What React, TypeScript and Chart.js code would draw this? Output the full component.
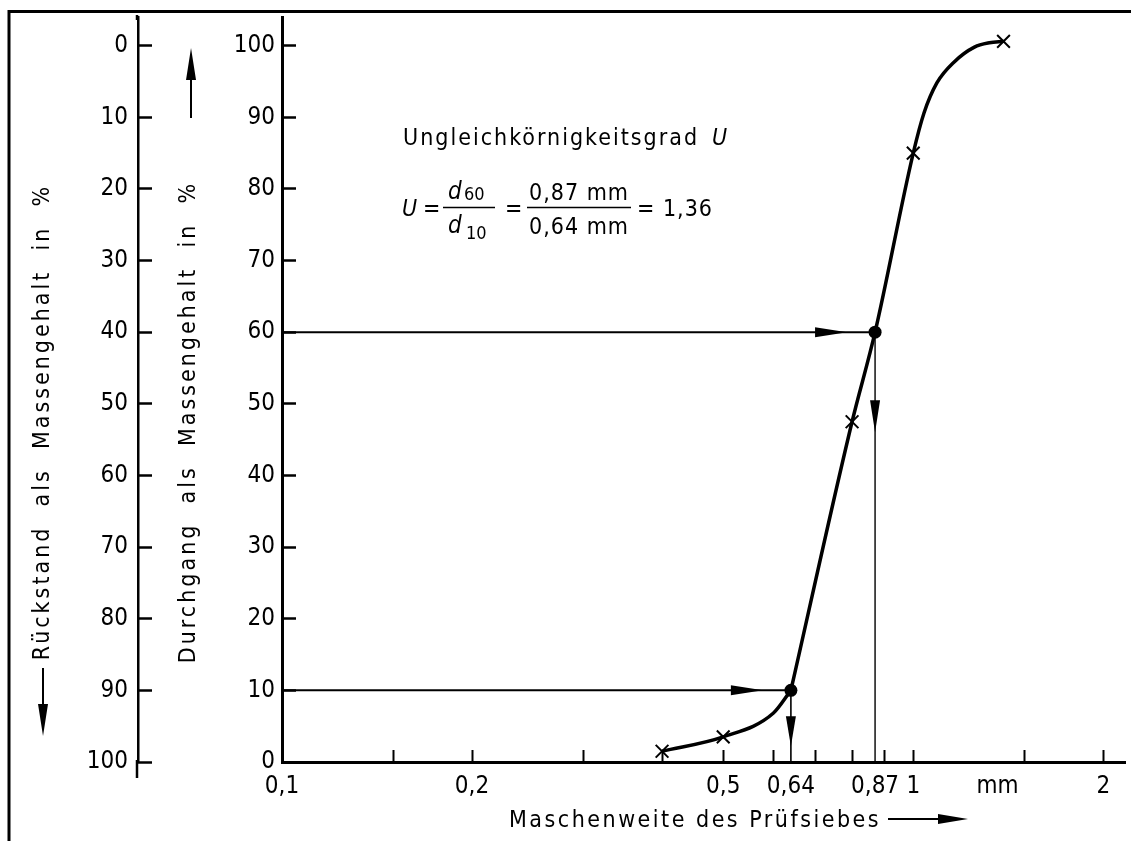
import React, { useEffect, useRef } from 'react';
import { Chart, registerables } from 'chart.js';

Chart.register(...registerables);

const FONT = '"DejaVu Sans Condensed", "DejaVu Sans", sans-serif';

// ---- data ----
const sieveSizes = [0.4, 0.5, 0.8, 1.0, 1.39];
const passingPercent = [1.5, 3.5, 47.5, 85, 100.6];

// grading curve, lower bend (up to d10) and upper part (from d10)
const curveLowSizes = [0.4, 0.5, 0.6, 0.64];
const curveLowPercent = [1.5, 3.5, 6.8, 10];
const curveHighSizes = [0.64, 0.8, 0.87, 1.0, 1.04, 1.09, 1.16, 1.25, 1.32, 1.39];
const curveHighPercent = [10, 47.5, 60, 85, 90.6, 94.8, 97.7, 99.8, 100.4, 100.6];

const keySizes = [0.64, 0.87]; // d10, d60
const keyPercent = [10, 60];

const passTicks = [0, 10, 20, 30, 40, 50, 60, 70, 80, 90, 100];
const residueTicks = [0, 10, 20, 30, 40, 50, 60, 70, 80, 90, 100];

const xTickValues = [0.1, 0.15, 0.2, 0.3, 0.4, 0.5, 0.6, 0.64, 0.7, 0.8, 0.87, 0.9, 1, 1.36, 1.5, 2];
const xTickLabels = ['0,1', '', '0,2', '', '', '0,5', '', '0,64', '', '', '0,87', '', '1', 'mm', '', '2'];
const xUnmarked = [0.64, 0.87, 1.36];

const X_MIN = 0.1;
const X_MAX = 2.165;
const Y_MAX = 104;
const RES_MIN = -4;

const yTitleResidue = 'Rückstand  als  Massengehalt  in  %';
const yTitlePassing = 'Durchgang  als  Massengehalt  in  %';
const xTitle = 'Maschenweite des Prüfsiebes';
const noteTitle = 'Ungleichkörnigkeitsgrad';

function arrowHead(ctx: CanvasRenderingContext2D, tx: number, ty: number, dir: string, len: number, half: number) {
  ctx.beginPath();
  if (dir === 'right') {
    ctx.moveTo(tx, ty);
    ctx.lineTo(tx - len, ty - half);
    ctx.lineTo(tx - len, ty + half);
  } else if (dir === 'down') {
    ctx.moveTo(tx, ty);
    ctx.lineTo(tx - half, ty - len);
    ctx.lineTo(tx + half, ty - len);
  } else if (dir === 'up') {
    ctx.moveTo(tx, ty);
    ctx.lineTo(tx - half, ty + len);
    ctx.lineTo(tx + half, ty + len);
  }
  ctx.closePath();
  ctx.fill();
}

const decorPlugin = {
  id: 'decor',
  beforeDraw(chart: any) {
    const ctx = chart.ctx as CanvasRenderingContext2D;
    ctx.save();
    ctx.fillStyle = '#fff';
    ctx.fillRect(0, 0, chart.width, chart.height);
    ctx.restore();
  },
  afterDraw(chart: any) {
    const ctx = chart.ctx as CanvasRenderingContext2D;
    const xs = chart.scales.x;
    const ys = chart.scales.y;
    const yr = chart.scales.yRes;
    ctx.save();
    ctx.fillStyle = '#000';
    ctx.strokeStyle = '#000';

    // frame
    ctx.lineWidth = 3;
    ctx.beginPath();
    ctx.moveTo(9, 841);
    ctx.lineTo(9, 11.5);
    ctx.lineTo(1131, 11.5);
    ctx.stroke();

    // residue axis extension beyond the plot range
    ctx.lineWidth = 2.5;
    ctx.beginPath();
    ctx.moveTo(yr.right - 1, 15);
    ctx.lineTo(yr.right - 1, 20);
    ctx.moveTo(yr.right - 1, ys.getPixelForValue(0) - 2);
    ctx.lineTo(yr.right - 1, 778);
    ctx.stroke();

    // guide arrows
    const d10x = xs.getPixelForValue(keySizes[0]);
    const d10y = ys.getPixelForValue(keyPercent[0]);
    const d60x = xs.getPixelForValue(keySizes[1]);
    const d60y = ys.getPixelForValue(keyPercent[1]);
    arrowHead(ctx, d60x - 28, d60y, 'right', 32, 5);
    arrowHead(ctx, d60x, d60y + 100, 'down', 32, 5);
    arrowHead(ctx, d10x - 28, d10y, 'right', 32, 5);
    arrowHead(ctx, d10x, d10y + 56, 'down', 30, 5);

    // axis titles
    (ctx as any).letterSpacing = '3px';
    ctx.font = `23px ${FONT}`;
    ctx.textAlign = 'center';
    ctx.textBaseline = 'middle';
    ctx.save();
    ctx.translate(43, 422);
    ctx.rotate(-Math.PI / 2);
    ctx.fillText(yTitleResidue, 0, 0);
    ctx.restore();
    ctx.save();
    ctx.translate(189, 422);
    ctx.rotate(-Math.PI / 2);
    ctx.fillText(yTitlePassing, 0, 0);
    ctx.restore();

    // title arrows
    ctx.lineWidth = 2;
    ctx.beginPath();
    ctx.moveTo(43, 668);
    ctx.lineTo(43, 706);
    ctx.stroke();
    arrowHead(ctx, 43, 736, 'down', 32, 5);
    ctx.beginPath();
    ctx.moveTo(191, 118);
    ctx.lineTo(191, 78);
    ctx.stroke();
    arrowHead(ctx, 191, 48, 'up', 32, 5);

    // x title
    (ctx as any).letterSpacing = '2.5px';
    ctx.font = `23px ${FONT}`;
    ctx.textAlign = 'left';
    ctx.textBaseline = 'alphabetic';
    ctx.fillText(xTitle, 509, 827);
    ctx.beginPath();
    ctx.moveTo(888, 819);
    ctx.lineTo(942, 819);
    ctx.stroke();
    arrowHead(ctx, 968, 819, 'right', 30, 5);

    // annotation
    (ctx as any).letterSpacing = '2px';
    ctx.font = `23px ${FONT}`;
    ctx.fillText(noteTitle, 403, 145);
    ctx.font = `italic 23px ${FONT}`;
    ctx.fillText('U', 712, 145);

    (ctx as any).letterSpacing = '0px';
    ctx.font = `italic 23px ${FONT}`;
    ctx.fillText('U', 402, 216);
    ctx.font = `23px ${FONT}`;
    ctx.fillText('=', 423, 216);
    ctx.font = `italic 24px ${FONT}`;
    ctx.fillText('d', 448, 199);
    ctx.fillText('d', 448, 233);
    ctx.font = `18px ${FONT}`;
    ctx.fillText('60', 464, 200);
    ctx.fillText('10', 466, 239);
    ctx.lineWidth = 1.5;
    ctx.beginPath();
    ctx.moveTo(443, 207.5);
    ctx.lineTo(495, 207.5);
    ctx.stroke();
    ctx.font = `23px ${FONT}`;
    ctx.fillText('=', 505, 216);
    (ctx as any).letterSpacing = '1px';
    ctx.textAlign = 'center';
    ctx.fillText('0,87 mm', 579, 200);
    ctx.fillText('0,64 mm', 579, 234);
    ctx.beginPath();
    ctx.moveTo(527, 207.5);
    ctx.lineTo(631, 207.5);
    ctx.stroke();
    ctx.textAlign = 'left';
    ctx.fillText('= 1,36', 637, 216);

    ctx.restore();
  },
};

const xy = (xsArr: number[], ysArr: number[]) => xsArr.map((x, i) => ({ x, y: ysArr[i] }));

const noPad = (s: any) => {
  s.paddingTop = 0;
  s.paddingBottom = 0;
  s.paddingLeft = 0;
  s.paddingRight = 0;
};

export default function App() {
  const ref = useRef<HTMLCanvasElement>(null);

  useEffect(() => {
    if (!ref.current) return;
    const chart = new Chart(ref.current, {
      type: 'line',
      data: {
        datasets: [
          {
            label: 'Messpunkte',
            data: xy(sieveSizes, passingPercent),
            showLine: false,
            pointStyle: 'crossRot',
            pointRadius: 9,
            pointBorderWidth: 2,
            borderColor: '#000',
            backgroundColor: '#000',
            yAxisID: 'y',
          },
          {
            label: 'd10/d60',
            data: xy(keySizes, keyPercent),
            showLine: false,
            pointStyle: 'circle',
            pointRadius: 6.5,
            pointBorderWidth: 0,
            borderColor: '#000',
            backgroundColor: '#000',
            yAxisID: 'y',
          },
          {
            label: 'Sieblinie unten',
            data: xy(curveLowSizes, curveLowPercent),
            borderColor: '#000',
            borderWidth: 3.5,
            pointRadius: 0,
            cubicInterpolationMode: 'monotone',
            yAxisID: 'y',
          },
          {
            label: 'Sieblinie oben',
            data: xy(curveHighSizes, curveHighPercent),
            borderColor: '#000',
            borderWidth: 3.5,
            pointRadius: 0,
            cubicInterpolationMode: 'monotone',
            yAxisID: 'y',
          },
          {
            label: 'd60 h',
            data: [{ x: X_MIN, y: keyPercent[1] }, { x: keySizes[1], y: keyPercent[1] }],
            borderColor: '#000',
            borderWidth: 2,
            pointRadius: 0,
            yAxisID: 'y',
          },
          {
            label: 'd60 v',
            data: [{ x: keySizes[1], y: keyPercent[1] }, { x: keySizes[1], y: 0 }],
            borderColor: '#000',
            borderWidth: 1.4,
            pointRadius: 0,
            yAxisID: 'y',
          },
          {
            label: 'd10 h',
            data: [{ x: X_MIN, y: keyPercent[0] }, { x: keySizes[0], y: keyPercent[0] }],
            borderColor: '#000',
            borderWidth: 2,
            pointRadius: 0,
            yAxisID: 'y',
          },
          {
            label: 'd10 v',
            data: [{ x: keySizes[0], y: keyPercent[0] }, { x: keySizes[0], y: 0 }],
            borderColor: '#000',
            borderWidth: 1.6,
            pointRadius: 0,
            yAxisID: 'y',
          },
        ],
      },
      options: {
        responsive: false,
        animation: false,
        devicePixelRatio: 1,
        layout: { autoPadding: false, padding: { top: 17, right: 6, bottom: 0, left: 0 } },
        plugins: { legend: { display: false }, tooltip: { enabled: false } },
        scales: {
          x: {
            type: 'logarithmic',
            position: 'bottom',
            min: X_MIN,
            max: X_MAX,
            afterBuildTicks: (s: any) => {
              s.ticks = xTickValues.map((v) => ({ value: v }));
            },
            afterFit: (s: any) => {
              s.height = 79;
              noPad(s);
            },
            ticks: {
              autoSkip: false,
              maxRotation: 0,
              minRotation: 0,
              padding: 22,
              color: '#000',
              font: { family: FONT, size: 24 },
              callback: (_v: any, i: number) => xTickLabels[i],
            },
            grid: {
              drawOnChartArea: false,
              drawTicks: true,
              tickLength: -12,
              tickWidth: 2,
              tickColor: (c: any) => (c.tick && xUnmarked.includes(c.tick.value) ? 'rgba(0,0,0,0)' : '#000'),
            },
            border: { display: true, color: '#000', width: 3 },
          },
          y: {
            type: 'linear',
            position: 'left',
            weight: 0,
            min: 0,
            max: Y_MAX,
            afterBuildTicks: (s: any) => {
              s.ticks = passTicks.map((v) => ({ value: v }));
            },
            afterFit: (s: any) => {
              s.width = 144;
              noPad(s);
            },
            ticks: {
              padding: 21,
              color: '#000',
              font: { family: FONT, size: 24 },
              callback: (v: any) => String(v),
            },
            grid: {
              drawOnChartArea: false,
              drawTicks: true,
              tickLength: -14,
              tickWidth: 2.5,
              tickColor: '#000',
            },
            border: { display: true, color: '#000', width: 3 },
          },
          yRes: {
            type: 'linear',
            position: 'left',
            weight: 1,
            reverse: true,
            min: RES_MIN,
            max: 100,
            afterBuildTicks: (s: any) => {
              s.ticks = residueTicks.map((v) => ({ value: v }));
            },
            afterFit: (s: any) => {
              s.width = 138;
              noPad(s);
            },
            ticks: {
              padding: 24,
              color: '#000',
              font: { family: FONT, size: 24 },
              callback: (v: any) => String(v),
            },
            grid: {
              drawOnChartArea: false,
              drawTicks: true,
              tickLength: -14,
              tickWidth: 2.5,
              tickColor: '#000',
            },
            border: { display: true, color: '#000', width: 2.5 },
          },
        },
      },
      plugins: [decorPlugin],
    } as any);
    return () => chart.destroy();
  }, []);

  return (
    <div style={{ position: 'absolute', left: 0, top: 0, width: 1131, height: 841, background: '#fff' }}>
      <canvas ref={ref} width={1131} height={841} style={{ display: 'block' }} />
    </div>
  );
}
